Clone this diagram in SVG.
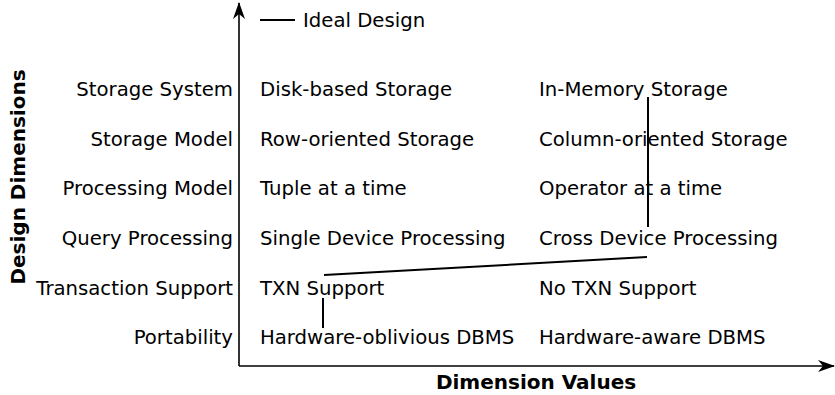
<svg xmlns="http://www.w3.org/2000/svg" width="835" height="395" viewBox="0 0 835 395">
<style>
text{font-family:"DejaVu Sans",sans-serif;font-size:19.7px;fill:#000}
.dim{text-anchor:end}
.bold{font-weight:bold;font-size:20px;text-anchor:middle}
.ln{stroke:#000;stroke-width:2;fill:none}
.ax{stroke:#000;stroke-width:1.6;fill:none}
</style>
<defs>
<marker id="ah" viewBox="0 0 17 12" refX="16" refY="6" markerWidth="17" markerHeight="12" markerUnits="userSpaceOnUse" orient="auto">
<path d="M0,0 L17,6 L0,12 L5,6 Z" fill="#000"/>
</marker>
</defs>
<g id="axes">
<line class="ax" x1="239" y1="366" x2="239" y2="3" marker-end="url(#ah)"/>
<line class="ax" x1="239" y1="366" x2="834" y2="366" marker-end="url(#ah)"/>
<text class="bold" x="536" y="389">Dimension Values</text>
<text class="bold" transform="translate(25,177) rotate(-90)">Design Dimensions</text>
</g>
<g id="legend">
<line class="ln" x1="260" y1="20" x2="295" y2="20"/>
<text x="303" y="27">Ideal Design</text>
</g>
<g id="dimensions">
<text class="dim" x="233" y="96">Storage System</text>
<text class="dim" x="233" y="146">Storage Model</text>
<text class="dim" x="233" y="195">Processing Model</text>
<text class="dim" x="233" y="245">Query Processing</text>
<text class="dim" x="233" y="295">Transaction Support</text>
<text class="dim" x="233" y="344">Portability</text>
</g>
<g id="values1">
<text x="260" y="96">Disk-based Storage</text>
<text x="260" y="146">Row-oriented Storage</text>
<text x="260" y="195">Tuple at a time</text>
<text x="260" y="245">Single Device Processing</text>
<text x="260" y="295">TXN Support</text>
<text x="260" y="344">Hardware-oblivious DBMS</text>
</g>
<g id="values2">
<text x="539" y="96">In-Memory Storage</text>
<text x="539" y="146">Column-oriented Storage</text>
<text x="539" y="195">Operator at a time</text>
<text x="539" y="245">Cross Device Processing</text>
<text x="539" y="295">No TXN Support</text>
<text x="539" y="344">Hardware-aware DBMS</text>
</g>
<g id="connectors">
<polyline class="ln" points="648,97 648,227"/>
<line class="ln" x1="647" y1="257" x2="324" y2="275"/>
<line class="ln" x1="323" y1="298" x2="323" y2="328"/>
</g>
</svg>
